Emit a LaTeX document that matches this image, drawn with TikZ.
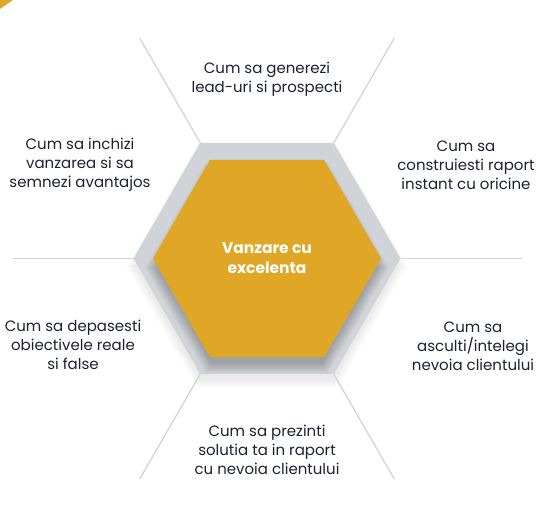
\documentclass[tikz,border=0pt]{standalone}
\usepackage{fontspec}
\setmainfont{Poppins}
\definecolor{gold}{RGB}{224,166,38}
\definecolor{hexgrey}{RGB}{208,211,216}
\definecolor{linegrey}{RGB}{210,212,216}
\definecolor{txt}{RGB}{28,32,52}
\begin{document}
\begin{tikzpicture}[x=1pt,y=-1pt,
  lbl/.style={font=\fontsize{15}{19}\selectfont, text=txt, align=center, inner sep=0pt},
  ctr/.style={font=\fontsize{15.5}{20}\selectfont\bfseries, text=white, align=center, inner sep=0pt},
  conn/.style={draw=linegrey, line width=1.3pt}]
\useasboundingbox (0,0) rectangle (550,529);
\fill[gold] (0,0) -- (13,0) -- (0,9) -- cycle;
\coordinate (c) at (267,258.5);
% outer drop shadow
\begin{scope}[shift={(267,266)}]
  \foreach \i in {1,...,10}{
    \pgfmathsetmacro\r{131+\i}
    \fill[black,opacity=0.008] (0:\r) -- (60:\r) -- (120:\r) -- (180:\r) -- (240:\r) -- (300:\r) -- cycle;
  }
\end{scope}
\begin{scope}[shift={(c)}]
  \foreach \a [count=\k] in {0,60,120,180,240,300}{
    \coordinate (o\k) at (\a:133.5);
    \coordinate (e\k) at (\a:254.5);
  }
  \fill[hexgrey] (o1) -- (o2) -- (o3) -- (o4) -- (o5) -- (o6) -- cycle;
  \begin{scope}
    \clip (o1) -- (o2) -- (o3) -- (o4) -- (o5) -- (o6) -- cycle;
    \begin{scope}[shift={(0,9)}]
      \foreach \i in {1,...,12}{
        \pgfmathsetmacro\r{110+\i}
        \fill[black,opacity=0.018] (0:\r) -- (60:\r) -- (120:\r) -- (180:\r) -- (240:\r) -- (300:\r) -- cycle;
      }
    \end{scope}
  \end{scope}
  \fill[gold] (0:114) -- (60:114) -- (120:114) -- (180:114) -- (240:114) -- (300:114) -- cycle;
\end{scope}
\foreach \k in {1,...,6}{ \draw[conn] (o\k) -- (e\k); }
\node[ctr] (core) at (267,258) {Vanzare cu\\excelenta};
\node[lbl] (n1) at (267,79.5) {Cum sa generezi\\lead-uri si prospecti};
\node[lbl] (n2) at (466,165) {Cum sa\\construiesti raport\\instant cu oricine};
\node[lbl] (n3) at (473,346) {Cum sa\\asculti/intelegi\\nevoia clientului};
\node[lbl] (n4) at (267,450) {Cum sa prezinti\\solutia ta in raport\\cu nevoia clientului};
\node[lbl] (n5) at (73,345) {Cum sa depasesti\\obiectivele reale\\si false};
\node[lbl] (n6) at (80,164.5) {Cum sa inchizi\\vanzarea si sa\\semnezi avantajos};
\end{tikzpicture}
\end{document}
